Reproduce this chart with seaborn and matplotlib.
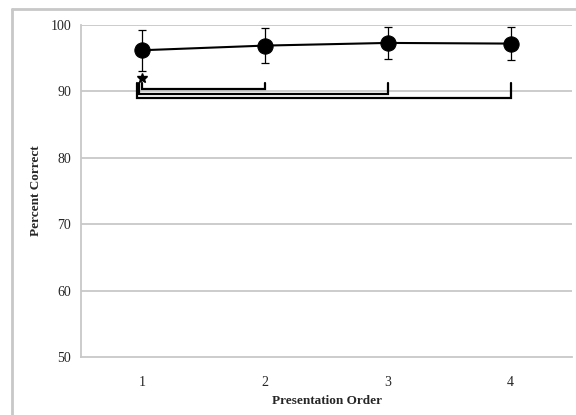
import matplotlib
matplotlib.use("Agg")
import matplotlib.pyplot as plt
import seaborn as sns
import pandas as pd
from matplotlib.lines import Line2D

# ---- data ----
orders = [1, 2, 3, 4]
percent_correct = [96.2, 96.9, 97.3, 97.2]
error = [3.1, 2.6, 2.4, 2.5]
y_ticks = [50, 60, 70, 80, 90, 100]
x_tick_labels = ["1", "2", "3", "4"]
comparisons = [(1, 2), (1, 3), (1, 4)]
bracket_levels = [90.4, 89.6, 89.0]
bracket_top = 91.3
star_pos = (1, 92.0)

df = pd.DataFrame({"order": orders, "pct": percent_correct, "err": error})

sns.set_theme(style="white")
plt.rcParams["font.family"] = ["Liberation Serif", "DejaVu Serif"]

fig = plt.figure(figsize=(5.76, 4.15), dpi=100)
ax = fig.add_axes([81 / 576, 1 - 357 / 415, (572 - 81) / 576, (357 - 25) / 415])

grid_c = "#c8c8c8"
for yv in y_ticks[1:]:
    ax.axhline(yv, color=grid_c, lw=1.3, zorder=0)

# brackets
offsets = [0.0, -0.025, -0.04]
for (a, b), lvl, off in zip(comparisons, bracket_levels, offsets):
    ax.plot([a + off, a + off, b, b], [bracket_top, lvl, lvl, bracket_top],
            color="black", lw=1.6, solid_joinstyle="miter", zorder=2)

# error bars
ax.errorbar(df["order"], df["pct"], yerr=df["err"], fmt="none", ecolor="black",
            elinewidth=0.9, capsize=3, capthick=0.9, zorder=3)

sns.lineplot(data=df, x="order", y="pct", ax=ax, color="black", lw=1.5,
             marker="o", markersize=11, markeredgecolor="black",
             markerfacecolor="black", zorder=4)

ax.plot([star_pos[0]], [star_pos[1]], marker="*", color="black",
        markersize=7, zorder=5)

ax.set_xlim(0.5, 4.5)
ax.set_ylim(50, 100)
ax.set_yticks(y_ticks)
ax.set_yticklabels([str(v) for v in y_ticks], fontsize=10)
ax.set_xticks(orders)
ax.set_xticklabels(x_tick_labels, fontsize=10)
ax.set_xticks([0.5, 1.5, 2.5, 3.5, 4.5], minor=True)
ax.tick_params(axis="x", which="major", length=0, pad=14)
ax.tick_params(axis="x", which="minor", length=4, color=grid_c, width=1)
ax.tick_params(axis="y", which="major", length=4, color=grid_c, width=1, pad=3)

for s in ["top", "right"]:
    ax.spines[s].set_visible(False)
for s in ["left", "bottom"]:
    ax.spines[s].set_color(grid_c)
    ax.spines[s].set_linewidth(1.3)

ax.set_xlabel("Presentation Order", fontsize=9.5, fontweight="bold", labelpad=4)
ax.set_ylabel("Percent Correct", fontsize=9.5, fontweight="bold", labelpad=6)

# figure frame
fig.add_artist(Line2D([12 / 576, 12 / 576], [0, 1 - 9 / 415], color=grid_c,
                      lw=2, transform=fig.transFigure))
fig.add_artist(Line2D([12 / 576, 1], [1 - 9 / 415, 1 - 9 / 415], color=grid_c,
                      lw=2, transform=fig.transFigure))

fig.savefig("out.png", dpi=100)
